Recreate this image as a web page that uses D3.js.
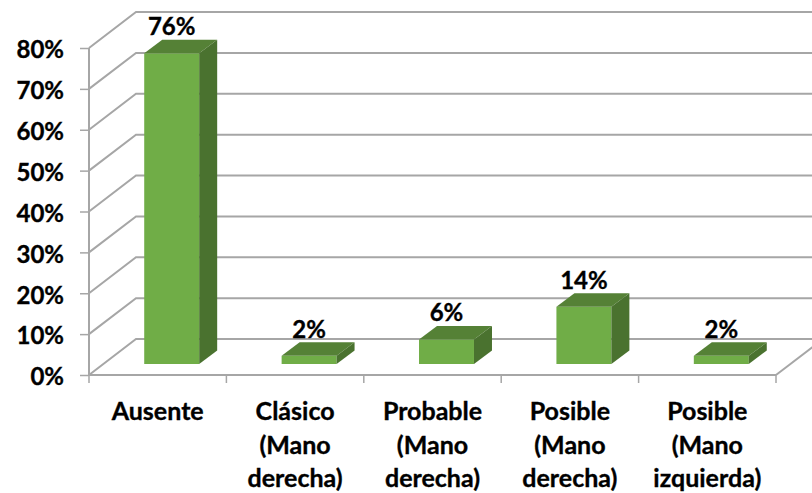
<!DOCTYPE html>
<html>
<head>
<meta charset="utf-8">
<script src="https://d3js.org/d3.v7.min.js"></script>
<style>
  html, body { margin: 0; padding: 0; background: #fff; overflow: hidden; }
  text { font-family: Lato, "Open Sans", sans-serif; font-weight: 700; fill: #000; stroke: #000; stroke-width: 0.35px; }
</style>
</head>
<body>
<div id="chart"></div>
<script>
// Chart data
var categories = ["Ausente", "Clásico (Mano derecha)", "Probable (Mano derecha)", "Posible (Mano derecha)", "Posible (Mano izquierda)"];
var categoryLines = [["Ausente"], ["Clásico", "(Mano", "derecha)"], ["Probable", "(Mano", "derecha)"], ["Posible", "(Mano", "derecha)"], ["Posible", "(Mano", "izquierda)"]];
var values = [76, 2, 6, 14, 2];
var yTicks = [0, 10, 20, 30, 40, 50, 60, 70, 80];

var svg = d3.select("#chart").append("svg").attr("width", 812).attr("height", 493);

var x = d3.scaleBand().domain(categories).range([89, 776]);
var y = d3.scaleLinear().domain([0, 80]).range([375, 48]);

// Depth of the 3D box: walls are pushed back by this offset, bars by a part of it
var wallDx = 47, wallDy = -36;
var barDx = 18, barDy = -13.5;
var floorDx = 14, floorDy = -11;
var barWidth = x.bandwidth() * 0.4;

var gridColor = "#a6a6a6";

// Back wall gridlines with their slanted side wall part
var grid = svg.append("g").attr("fill", "none").attr("stroke", gridColor).attr("stroke-width", 2);
grid.selectAll("path")
  .data(yTicks)
  .enter()
  .append("path")
  .attr("d", function (d) {
    return "M" + x.range()[0] + "," + y(d) +
      "L" + (x.range()[0] + wallDx) + "," + (y(d) + wallDy) +
      "H" + (x.range()[1] + wallDx);
  });

// Floor edge on the right
grid.append("line")
  .attr("x1", x.range()[1]).attr("y1", y(0))
  .attr("x2", x.range()[1] + wallDx).attr("y2", y(0) + wallDy);

// Y axis
var yAxis = svg.append("g")
  .attr("transform", "translate(" + x.range()[0] + ",0)")
  .call(d3.axisLeft(y).tickValues(yTicks).tickSize(9).tickPadding(16).tickFormat(function (d) { return d + "%"; }));
yAxis.selectAll("text").attr("font-size", "24px").attr("fill", "#000").attr("dy", "0.41em");
yAxis.selectAll("line").attr("stroke", gridColor).attr("stroke-width", 1.5);
yAxis.select(".domain").attr("stroke", gridColor).attr("stroke-width", 2).attr("d", "M0," + y(0) + "V" + y(80));

// X axis, ticks sit between the categories
var xAxis = svg.append("g");
xAxis.append("line")
  .attr("x1", x.range()[0]).attr("x2", x.range()[1])
  .attr("y1", y(0)).attr("y2", y(0))
  .attr("stroke", gridColor).attr("stroke-width", 2);
xAxis.selectAll(".tick")
  .data(categories.concat([null]))
  .enter()
  .append("line")
  .attr("class", "tick")
  .attr("x1", function (d) { return d === null ? x.range()[1] : x(d); })
  .attr("x2", function (d) { return d === null ? x.range()[1] : x(d); })
  .attr("y1", y(0))
  .attr("y2", y(0) + 8)
  .attr("stroke", gridColor)
  .attr("stroke-width", 1.5);

// Category labels, one line per row
var catLabels = svg.append("g").selectAll("text")
  .data(categories)
  .enter()
  .append("text")
  .attr("text-anchor", "middle")
  .attr("font-size", "25px");
catLabels.selectAll("tspan")
  .data(function (d, i) {
    return categoryLines[i].map(function (line) { return { line: line, cat: d }; });
  })
  .enter()
  .append("tspan")
  .attr("x", function (d) { return x(d.cat) + x.bandwidth() / 2; })
  .attr("y", function (d, i) { return 420 + i * 33.5; })
  .text(function (d) { return d.line; });

// Bars
function barLeft(i) {
  return x(categories[i]) + (x.bandwidth() - barWidth) / 2 + floorDx;
}
function barTop(d) {
  return y(d) + floorDy;
}

var bars = svg.append("g").selectAll("g")
  .data(values)
  .enter()
  .append("g");

bars.append("rect")
  .attr("x", function (d, i) { return barLeft(i); })
  .attr("y", barTop)
  .attr("width", barWidth)
  .attr("height", function (d) { return y(0) - y(d); })
  .attr("fill", "#70ad47");

bars.append("path")
  .attr("fill", "#558136")
  .attr("d", function (d, i) {
    var l = barLeft(i), t = barTop(d);
    return "M" + l + "," + t + "l" + barDx + "," + barDy + "h" + barWidth + "l" + (-barDx) + "," + (-barDy) + "Z";
  });

bars.append("path")
  .attr("fill", "#4a722f")
  .attr("d", function (d, i) {
    var r = barLeft(i) + barWidth, t = barTop(d), b = barTop(0);
    return "M" + r + "," + t + "l" + barDx + "," + barDy + "V" + (b + barDy) + "l" + (-barDx) + "," + (-barDy) + "Z";
  });

// Value labels above the bars
bars.append("text")
  .attr("x", function (d, i) { return barLeft(i) + barWidth / 2; })
  .attr("y", function (d) { return barTop(d) - 18; })
  .attr("text-anchor", "middle")
  .attr("font-size", "24px")
  .text(function (d) { return d + "%"; });
</script>
</body>
</html>
